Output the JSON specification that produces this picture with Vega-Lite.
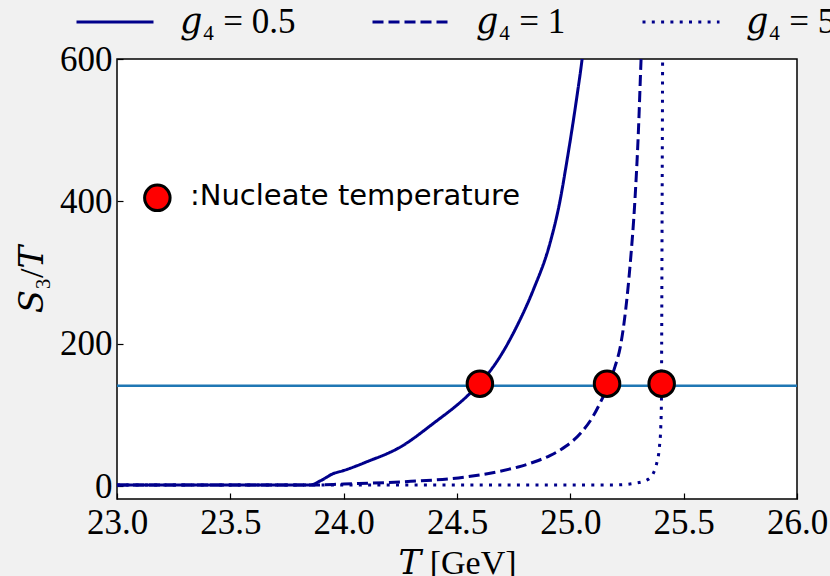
{
  "$schema": "https://vega.github.io/schema/vega-lite/v6.json",
  "width": 680,
  "height": 440,
  "autosize": {"type": "none"},
  "padding": {"left": 117, "top": 59, "right": 33, "bottom": 77},
  "background": "#f1f1f1",
  "config": {
    "view": {"fill": "white", "stroke": "black", "strokeWidth": 1.5},
    "axis": {
      "domain": false,
      "grid": false,
      "ticks": true,
      "tickColor": "black",
      "tickSize": -6,
      "tickWidth": 1.2,
      "labelFlush": false,
      "labelOverlap": false,
      "labelFont": "Liberation Serif",
      "labelFontSize": 35,
      "labelColor": "black",
      "titleFont": "Liberation Serif, DejaVu Serif",
      "titleFontSize": 34,
      "titleFontWeight": "normal",
      "titleColor": "black"
    }
  },
  "datasets": {
    "curves": [
      {"T": 23.0, "S": 1.5, "g": "𝑔₄ = 0.5"},
      {"T": 23.85, "S": 1.5, "g": "𝑔₄ = 0.5"},
      {"T": 23.9, "S": 8, "g": "𝑔₄ = 0.5"},
      {"T": 23.953, "S": 17.5, "g": "𝑔₄ = 0.5"},
      {"T": 24.0, "S": 22, "g": "𝑔₄ = 0.5"},
      {"T": 24.1, "S": 34, "g": "𝑔₄ = 0.5"},
      {"T": 24.25, "S": 55, "g": "𝑔₄ = 0.5"},
      {"T": 24.395, "S": 88, "g": "𝑔₄ = 0.5"},
      {"T": 24.543, "S": 126, "g": "𝑔₄ = 0.5"},
      {"T": 24.6, "S": 144, "g": "𝑔₄ = 0.5"},
      {"T": 24.69, "S": 182, "g": "𝑔₄ = 0.5"},
      {"T": 24.763, "S": 224, "g": "𝑔₄ = 0.5"},
      {"T": 24.837, "S": 276, "g": "𝑔₄ = 0.5"},
      {"T": 24.91, "S": 341, "g": "𝑔₄ = 0.5"},
      {"T": 24.954, "S": 400, "g": "𝑔₄ = 0.5"},
      {"T": 24.984, "S": 455, "g": "𝑔₄ = 0.5"},
      {"T": 25.028, "S": 545, "g": "𝑔₄ = 0.5"},
      {"T": 25.052, "S": 600, "g": "𝑔₄ = 0.5"},
      {"T": 25.058, "S": 616, "g": "𝑔₄ = 0.5"},
      {"T": 23.0, "S": 1.5, "g": "𝑔₄ = 1"},
      {"T": 23.85, "S": 1.5, "g": "𝑔₄ = 1"},
      {"T": 24.0, "S": 3, "g": "𝑔₄ = 1"},
      {"T": 24.25, "S": 6, "g": "𝑔₄ = 1"},
      {"T": 24.54, "S": 13, "g": "𝑔₄ = 1"},
      {"T": 24.69, "S": 21, "g": "𝑔₄ = 1"},
      {"T": 24.77, "S": 27, "g": "𝑔₄ = 1"},
      {"T": 24.84, "S": 34, "g": "𝑔₄ = 1"},
      {"T": 24.91, "S": 43, "g": "𝑔₄ = 1"},
      {"T": 24.98, "S": 56, "g": "𝑔₄ = 1"},
      {"T": 25.05, "S": 76, "g": "𝑔₄ = 1"},
      {"T": 25.1, "S": 98, "g": "𝑔₄ = 1"},
      {"T": 25.13, "S": 116, "g": "𝑔₄ = 1"},
      {"T": 25.165, "S": 140, "g": "𝑔₄ = 1"},
      {"T": 25.197, "S": 168, "g": "𝑔₄ = 1"},
      {"T": 25.22, "S": 195, "g": "𝑔₄ = 1"},
      {"T": 25.245, "S": 250, "g": "𝑔₄ = 1"},
      {"T": 25.263, "S": 308, "g": "𝑔₄ = 1"},
      {"T": 25.285, "S": 402, "g": "𝑔₄ = 1"},
      {"T": 25.3, "S": 496, "g": "𝑔₄ = 1"},
      {"T": 25.312, "S": 599, "g": "𝑔₄ = 1"},
      {"T": 25.314, "S": 615, "g": "𝑔₄ = 1"},
      {"T": 23.0, "S": 1.5, "g": "𝑔₄ = 5"},
      {"T": 25.2, "S": 1.8, "g": "𝑔₄ = 5"},
      {"T": 25.278, "S": 3.8, "g": "𝑔₄ = 5"},
      {"T": 25.337, "S": 8.4, "g": "𝑔₄ = 5"},
      {"T": 25.366, "S": 18, "g": "𝑔₄ = 5"},
      {"T": 25.381, "S": 32, "g": "𝑔₄ = 5"},
      {"T": 25.393, "S": 55, "g": "𝑔₄ = 5"},
      {"T": 25.399, "S": 83, "g": "𝑔₄ = 5"},
      {"T": 25.402, "S": 121, "g": "𝑔₄ = 5"},
      {"T": 25.403, "S": 200, "g": "𝑔₄ = 5"},
      {"T": 25.405, "S": 400, "g": "𝑔₄ = 5"},
      {"T": 25.407, "S": 594, "g": "𝑔₄ = 5"},
      {"T": 25.4072, "S": 615, "g": "𝑔₄ = 5"}
    ],
    "hline": [{"S": 141}],
    "dots": [
      {"T": 24.601, "S": 144},
      {"T": 25.162, "S": 144},
      {"T": 25.403, "S": 144}
    ],
    "note_dot": [{"T": 23.178, "S": 405}],
    "note_text": [{"T": 23.322, "S": 407, "label": ":Nucleate temperature"}]
  },
  "layer": [
    {
      "data": {"name": "curves"},
      "mark": {"type": "line", "clip": true, "strokeWidth": 3, "color": "#00008b", "strokeCap": "butt", "interpolate": "monotone"},
      "encoding": {
        "x": {
          "field": "T", "type": "quantitative",
          "scale": {"domain": [23, 26], "nice": false, "zero": false},
          "axis": {"values": [23, 23.5, 24, 24.5, 25, 25.5, 26], "format": ".1f", "title": "𝑇 [GeV]", "labelPadding": 12, "titlePadding": 6}
        },
        "y": {
          "field": "S", "type": "quantitative",
          "scale": {"domain": [-18, 600], "nice": false, "zero": false},
          "axis": {"values": [0, 200, 400, 600], "title": "𝑆₃/𝑇", "labelPadding": 11, "titlePadding": 10}
        },
        "strokeDash": {
          "field": "g", "type": "nominal",
          "scale": {"domain": ["𝑔₄ = 0.5", "𝑔₄ = 1", "𝑔₄ = 5"], "range": [[1, 0], [11, 5], [3, 6.3]]},
          "legend": {
            "orient": "none",
            "legendX": -42,
            "legendY": -77,
            "direction": "horizontal",
            "title": null,
            "padding": 0,
            "symbolType": "stroke",
            "symbolSize": 5929,
            "symbolStrokeWidth": 3,
            "symbolStrokeColor": "#00008b",
            "labelFont": "Liberation Serif, DejaVu Serif",
            "labelFontSize": 35,
            "labelColor": "black",
            "labelOffset": 25,
            "columnPadding": 70,
            "labelLimit": 300
          }
        }
      }
    },
    {
      "data": {"name": "hline"},
      "mark": {"type": "rule", "color": "#1f77b4", "strokeWidth": 2.5},
      "encoding": {"y": {"field": "S", "type": "quantitative"}}
    },
    {
      "data": {"name": "dots"},
      "mark": {"type": "point", "shape": "circle", "filled": true, "fill": "#ff0000", "stroke": "black", "strokeWidth": 3, "size": 650, "opacity": 1},
      "encoding": {
        "x": {"field": "T", "type": "quantitative"},
        "y": {"field": "S", "type": "quantitative"}
      }
    },
    {
      "data": {"name": "note_dot"},
      "mark": {"type": "point", "shape": "circle", "filled": true, "fill": "#ff0000", "stroke": "black", "strokeWidth": 3, "size": 650, "opacity": 1},
      "encoding": {
        "x": {"field": "T", "type": "quantitative"},
        "y": {"field": "S", "type": "quantitative"}
      }
    },
    {
      "data": {"name": "note_text"},
      "mark": {"type": "text", "align": "left", "baseline": "middle", "font": "DejaVu Sans", "fontSize": 29, "color": "black"},
      "encoding": {
        "x": {"field": "T", "type": "quantitative"},
        "y": {"field": "S", "type": "quantitative"},
        "text": {"field": "label"}
      }
    }
  ]
}
